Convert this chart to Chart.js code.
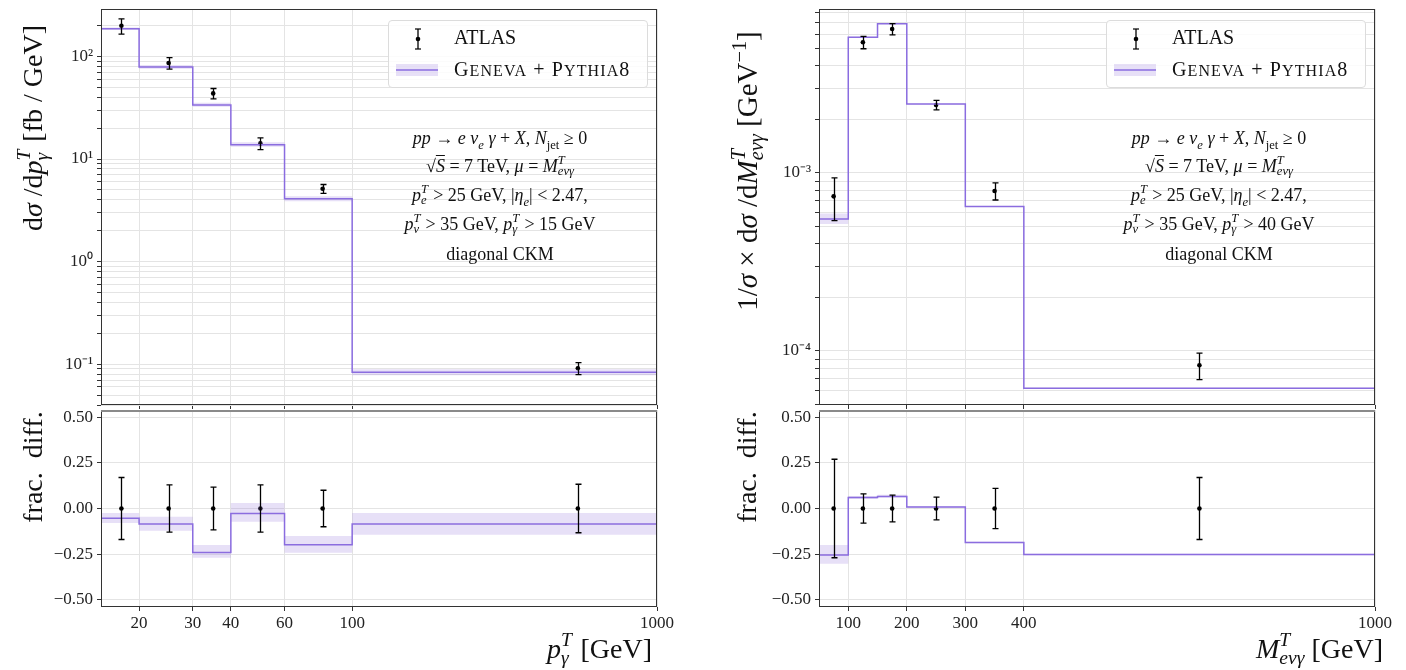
<!DOCTYPE html>
<html>
<head>
<meta charset="utf-8">
<script src="https://cdn.jsdelivr.net/npm/chart.js@4/dist/chart.umd.min.js"></script>
<style>
  html, body { margin: 0; padding: 0; background: #fff; }
  #fig { position: relative; width: 1406px; height: 670px; overflow: hidden; font-family: "Liberation Serif", serif; color: #111; }
  #fig canvas { position: absolute; }
  .txt { position: absolute; white-space: nowrap; }
  .rot { transform: translate(-50%, -50%) rotate(-90deg); font-size: 28px; }
  .xt { font-size: 28px; text-align: right; }
  .ann { font-size: 18px; width: 340px; text-align: center; line-height: 22px; }
  .ss { position: relative; display: inline-block; height: 0; }
  .ss .u, .ss .d { position: absolute; left: 0; font-size: 0.7em; line-height: 1; }
  .ss .u { bottom: 0.41em; }
  .ss .d { top: -0.52em; }
  .ov { text-decoration: overline; }
  .legend { position: absolute; border: 1px solid #dcdcdc; border-radius: 4px; background: rgba(255,255,255,0.85); font-size: 20px; }
  .legend svg, .legend span.e { position: absolute; }
  .sc { letter-spacing: 1.1px; }
  .sc small { font-size: 0.8em; }
</style>
</head>
<body>
<div id="fig">
  <canvas id="mainPt" width="680" height="410" style="left:0px;top:0px"></canvas>
  <canvas id="ratioPt" width="680" height="270" style="left:0px;top:400px"></canvas>
  <canvas id="mainMt" width="706" height="410" style="left:700px;top:0px"></canvas>
  <canvas id="ratioMt" width="706" height="270" style="left:700px;top:400px"></canvas>

  <!-- títulos de ejes -->
  <div class="txt rot" style="left:33px;top:128px">d<i>σ</i> /d<i>p</i><span class="ss" style="width:.42em"><span class="u"><i>T</i></span><span class="d"><i>γ</i></span></span> [fb / GeV]</div>
  <div class="txt rot" style="left:33px;top:467px">frac.&nbsp; diff.</div>
  <div class="txt xt" style="right:754px;top:633px"><i>p</i><span class="ss" style="width:.45em"><span class="u"><i>T</i></span><span class="d"><i>γ</i></span></span> [GeV]</div>

  <div class="txt rot" style="left:746px;top:171px;font-size:29px">1/<i>σ</i> × d<i>σ</i> /d<i>M</i><span class="ss" style="width:.9em"><span class="u"><i>T</i></span><span class="d"><i>eνγ</i></span></span> [GeV<sup style="font-size:.7em">−1</sup>]</div>
  <div class="txt rot" style="left:747px;top:467px">frac.&nbsp; diff.</div>
  <div class="txt xt" style="right:23px;top:633px"><i>M</i><span class="ss" style="width:.9em"><span class="u"><i>T</i></span><span class="d"><i>eνγ</i></span></span> [GeV]</div>

  <!-- leyendas -->
  <div class="legend" style="left:388px;top:20px;width:258px;height:66px">
    <svg width="12" height="22" style="left:23px;top:7px"><line x1="6" y1="1" x2="6" y2="21" stroke="#000" stroke-width="1.3"/><line x1="3" y1="1" x2="9" y2="1" stroke="#000" stroke-width="1.2"/><line x1="3" y1="21" x2="9" y2="21" stroke="#000" stroke-width="1.2"/><circle cx="6" cy="11" r="2.3" fill="#000"/></svg>
    <span class="e" style="left:65px;top:5px">ATLAS</span>
    <svg width="42" height="12" style="left:7px;top:43px"><rect x="0" y="0" width="42" height="12" fill="rgba(147,112,219,0.22)"/><line x1="0" y1="6" x2="42" y2="6" stroke="#8a6ce0" stroke-width="1.5"/></svg>
    <span class="e sc" style="left:65px;top:37px">G<small>ENEVA</small> + P<small>YTHIA</small>8</span>
  </div>
  <div class="legend" style="left:1106px;top:20px;width:258px;height:66px">
    <svg width="12" height="22" style="left:23px;top:7px"><line x1="6" y1="1" x2="6" y2="21" stroke="#000" stroke-width="1.3"/><line x1="3" y1="1" x2="9" y2="1" stroke="#000" stroke-width="1.2"/><line x1="3" y1="21" x2="9" y2="21" stroke="#000" stroke-width="1.2"/><circle cx="6" cy="11" r="2.3" fill="#000"/></svg>
    <span class="e" style="left:65px;top:5px">ATLAS</span>
    <svg width="42" height="12" style="left:7px;top:43px"><rect x="0" y="0" width="42" height="12" fill="rgba(147,112,219,0.22)"/><line x1="0" y1="6" x2="42" y2="6" stroke="#8a6ce0" stroke-width="1.5"/></svg>
    <span class="e sc" style="left:65px;top:37px">G<small>ENEVA</small> + P<small>YTHIA</small>8</span>
  </div>

  <!-- texto de cortes -->
  <div class="txt ann" style="left:330px;top:127px"><i>pp</i> → <i>e</i> <i>ν</i><sub style="font-size:.7em"><i>e</i></sub> <i>γ</i> + <i>X</i>, <i>N</i><sub style="font-size:.7em">jet</sub> ≥ 0</div>
  <div class="txt ann" style="left:330px;top:155px">√<span class="ov"><i>S</i></span> = 7 TeV, <i>μ</i> = <i>M</i><span class="ss" style="width:.9em"><span class="u"><i>T</i></span><span class="d"><i>eνγ</i></span></span></div>
  <div class="txt ann" style="left:330px;top:184px"><i>p</i><span class="ss" style="width:.42em"><span class="u"><i>T</i></span><span class="d"><i>e</i></span></span> &gt; 25 GeV, |<i>η</i><sub style="font-size:.7em"><i>e</i></sub>| &lt; 2.47,</div>
  <div class="txt ann" style="left:330px;top:213px"><i>p</i><span class="ss" style="width:.42em"><span class="u"><i>T</i></span><span class="d"><i>ν</i></span></span> &gt; 35 GeV, <i>p</i><span class="ss" style="width:.42em"><span class="u"><i>T</i></span><span class="d"><i>γ</i></span></span> &gt; 15 GeV</div>
  <div class="txt ann" style="left:330px;top:243px">diagonal CKM</div>

  <div class="txt ann" style="left:1049px;top:127px"><i>pp</i> → <i>e</i> <i>ν</i><sub style="font-size:.7em"><i>e</i></sub> <i>γ</i> + <i>X</i>, <i>N</i><sub style="font-size:.7em">jet</sub> ≥ 0</div>
  <div class="txt ann" style="left:1049px;top:155px">√<span class="ov"><i>S</i></span> = 7 TeV, <i>μ</i> = <i>M</i><span class="ss" style="width:.9em"><span class="u"><i>T</i></span><span class="d"><i>eνγ</i></span></span></div>
  <div class="txt ann" style="left:1049px;top:184px"><i>p</i><span class="ss" style="width:.42em"><span class="u"><i>T</i></span><span class="d"><i>e</i></span></span> &gt; 25 GeV, |<i>η</i><sub style="font-size:.7em"><i>e</i></sub>| &lt; 2.47,</div>
  <div class="txt ann" style="left:1049px;top:213px"><i>p</i><span class="ss" style="width:.42em"><span class="u"><i>T</i></span><span class="d"><i>ν</i></span></span> &gt; 35 GeV, <i>p</i><span class="ss" style="width:.42em"><span class="u"><i>T</i></span><span class="d"><i>γ</i></span></span> &gt; 40 GeV</div>
  <div class="txt ann" style="left:1049px;top:243px">diagonal CKM</div>
</div>

<script>
// panel izquierdo: pT del fotón (bins en GeV)
const ptEdges = [15, 20, 30, 40, 60, 100, 1000];
const ptCenters = [17.5, 25, 35, 50, 80, 550];
const ptGeneva = [186, 78.9, 33.6, 13.8, 4.1, 0.0836];
const ptAtlas = [199, 86.3, 43.6, 14.2, 5.13, 0.0914];
const ptAtlasErr = [0.17, 0.13, 0.117, 0.13, 0.10, 0.133]; // relativo
const ptRatio = [-0.053, -0.085, -0.241, -0.027, -0.199, -0.085];
const ptBandLo = [-0.08, -0.122, -0.27, -0.073, -0.243, -0.144];
const ptBandHi = [-0.025, -0.045, -0.20, 0.03, -0.151, -0.025];
const ptTicks = [20, 30, 40, 60, 100, 1000];

// panel derecho: masa transversa e nu gamma
const mtEdges = [50, 100, 150, 200, 300, 400, 1000];
const mtCenters = [75, 125, 175, 250, 350, 700];
const mtGeneva = [5.52e-4, 5.78e-3, 6.90e-3, 2.44e-3, 6.47e-4, 6.18e-5];
const mtAtlas = [7.39e-4, 5.42e-3, 6.44e-3, 2.41e-3, 7.92e-4, 8.31e-5];
const mtAtlasErr = [0.27, 0.08, 0.073, 0.062, 0.11, 0.17];
const mtRatio = [-0.255, 0.06, 0.066, 0.008, -0.186, -0.252];
const mtBandLo = [-0.303, 0.052, 0.06, 0.004, -0.19, -0.256];
const mtBandHi = [-0.20, 0.068, 0.075, 0.012, -0.182, -0.248];
const mtTicks = [100, 200, 300, 400, 1000];

const ratioTicks = [-0.5, -0.25, 0, 0.25, 0.5];

const PURPLE = '#8a6ce0';
const BAND = 'rgba(147,112,219,0.22)';
const GRID = '#e4e4e4';
const FONT = { family: 'Liberation Serif', size: 17 };

function sup(s) {
    const m = { '0': '⁰', '1': '¹', '2': '²', '3': '³', '4': '⁴', '-': '⁻' };
    return s.split('').map(c => m[c]).join('');
}

// marcas log: décadas + subdivisiones 2..9
function logTicks(min, max) {
    const t = [];
    for (let e = Math.floor(Math.log10(min)); e <= Math.ceil(Math.log10(max)); e++) {
        for (let k = 1; k < 10; k++) {
            const v = k * Math.pow(10, e);
            if (v >= min && v <= max) t.push({ value: v });
        }
    }
    return t;
}

function stepPts(edges, vals) {
    const pts = vals.map((v, i) => ({ x: edges[i], y: v }));
    pts.push({ x: edges[edges.length - 1], y: vals[vals.length - 1] });
    return pts;
}

// sin relleno extra alrededor de los ejes: el área del gráfico queda fija
function noPad(s) {
    s.paddingTop = 0; s.paddingBottom = 0; s.paddingLeft = 0; s.paddingRight = 0;
}

const errorBars = {
    id: 'errorBars',
    afterDatasetsDraw(chart) {
        const ctx = chart.ctx;
        const xs = chart.scales.x, ys = chart.scales.y;
        chart.data.datasets.forEach(ds => {
            if (!ds.errLo) return;
            ctx.save();
            ctx.strokeStyle = '#000';
            ctx.lineWidth = 1.3;
            ds.data.forEach((p, j) => {
                const x = Math.round(xs.getPixelForValue(p.x)) + 0.5;
                const y1 = ys.getPixelForValue(ds.errLo[j]);
                const y2 = ys.getPixelForValue(ds.errHi[j]);
                ctx.beginPath();
                ctx.moveTo(x, y1); ctx.lineTo(x, y2);
                ctx.moveTo(x - 3, y1); ctx.lineTo(x + 3, y1);
                ctx.moveTo(x - 3, y2); ctx.lineTo(x + 3, y2);
                ctx.stroke();
            });
            ctx.restore();
        });
    }
};

const frame = {
    id: 'frame',
    afterDraw(chart, args, opts) {
        const a = chart.chartArea, ctx = chart.ctx;
        ctx.save();
        ctx.strokeStyle = '#333';
        ctx.lineWidth = 1;
        ctx.strokeRect(a.left + 0.5, a.top + 0.5, a.right - a.left - 1, a.bottom - a.top - 1);
        if (opts.grayTop) {
            ctx.strokeStyle = '#8a8a8a';
            ctx.lineWidth = 2;
            ctx.beginPath();
            ctx.moveTo(a.left, a.top + 1);
            ctx.lineTo(a.right, a.top + 1);
            ctx.stroke();
        }
        ctx.restore();
    }
};

function xScale(p, showLabels, h) {
    return {
        type: p.xType, min: p.xMin, max: p.xMax,
        afterBuildTicks: s => { s.ticks = p.xTicks.map(v => ({ value: v })); },
        afterFit: s => { s.height = h; noPad(s); },
        ticks: { display: showLabels, font: FONT, color: '#222', maxRotation: 0, autoSkip: false, padding: 2,
                 callback: v => String(v) },
        grid: { color: GRID, tickColor: '#333', tickLength: 4 },
        border: { display: false }
    };
}

function bandSets(edges, lo, hi) {
    return [
        { data: stepPts(edges, lo), borderWidth: 0, pointRadius: 0, stepped: true, fill: false },
        { data: stepPts(edges, hi), borderWidth: 0, pointRadius: 0, stepped: true, fill: '-1', backgroundColor: BAND }
    ];
}

function mainChart(id, p) {
    // banda de incertidumbre de Geneva llevada al panel principal
    const lo = p.geneva.map((g, i) => g * (1 + p.bandLo[i]) / (1 + p.ratio[i]));
    const hi = p.geneva.map((g, i) => g * (1 + p.bandHi[i]) / (1 + p.ratio[i]));
    new Chart(document.getElementById(id), {
        type: 'line',
        data: {
            datasets: [
                ...bandSets(p.edges, lo, hi),
                { data: stepPts(p.edges, p.geneva), borderColor: PURPLE, borderWidth: 1.5, pointRadius: 0, stepped: true, fill: false },
                { type: 'scatter', data: p.centers.map((x, i) => ({ x: x, y: p.atlas[i] })),
                  pointRadius: 2.3, backgroundColor: '#000', borderWidth: 0,
                  errLo: p.atlas.map((a, i) => a * (1 - p.err[i])),
                  errHi: p.atlas.map((a, i) => a * (1 + p.err[i])) }
            ]
        },
        options: {
            responsive: false, animation: false,
            layout: { padding: { top: 9, right: p.padRight, left: 0, bottom: 0 } },
            plugins: { legend: { display: false }, tooltip: { enabled: false }, frame: {} },
            scales: {
                x: xScale(p, false, 5),
                y: {
                    type: 'logarithmic', min: p.yMin, max: p.yMax,
                    afterBuildTicks: s => { s.ticks = logTicks(p.yMin, p.yMax); },
                    afterFit: s => { s.width = p.axisW; noPad(s); },
                    ticks: { font: FONT, color: '#222', autoSkip: false, padding: 4,
                             callback: v => {
                                 const e = Math.log10(v);
                                 return Math.abs(e - Math.round(e)) < 1e-9 ? '10' + sup(String(Math.round(e))) : '';
                             } },
                    grid: { color: GRID, tickColor: '#333', tickLength: 4 },
                    border: { display: false }
                }
            }
        },
        plugins: [errorBars, frame]
    });
}

function ratioChart(id, p) {
    new Chart(document.getElementById(id), {
        type: 'line',
        data: {
            datasets: [
                ...bandSets(p.edges, p.bandLo, p.bandHi),
                { data: stepPts(p.edges, p.ratio), borderColor: PURPLE, borderWidth: 1.5, pointRadius: 0, stepped: true, fill: false },
                { type: 'scatter', data: p.centers.map(x => ({ x: x, y: 0 })),
                  pointRadius: 2.3, backgroundColor: '#000', borderWidth: 0,
                  errLo: p.err.map(e => -e), errHi: p.err.slice() }
            ]
        },
        options: {
            responsive: false, animation: false,
            layout: { padding: { top: 10, right: p.padRight, left: 0, bottom: 0 } },
            plugins: { legend: { display: false }, tooltip: { enabled: false }, frame: { grayTop: true } },
            scales: {
                x: xScale(p, true, 63),
                y: {
                    type: 'linear', min: -0.54, max: 0.54,
                    afterBuildTicks: s => { s.ticks = ratioTicks.map(v => ({ value: v })); },
                    afterFit: s => { s.width = p.axisW; noPad(s); },
                    ticks: { font: FONT, color: '#222', autoSkip: false, padding: 4,
                             callback: v => (v < 0 ? '−' : '') + Math.abs(v).toFixed(2) },
                    grid: { color: GRID, tickColor: '#333', tickLength: 4 },
                    border: { display: false }
                }
            }
        },
        plugins: [errorBars, frame]
    });
}

const ptPanel = {
    edges: ptEdges, centers: ptCenters, geneva: ptGeneva, atlas: ptAtlas, err: ptAtlasErr,
    ratio: ptRatio, bandLo: ptBandLo, bandHi: ptBandHi,
    xType: 'logarithmic', xMin: 15, xMax: 1000, xTicks: ptTicks,
    yMin: 0.04, yMax: 290, axisW: 101, padRight: 23
};
const mtPanel = {
    edges: mtEdges, centers: mtCenters, geneva: mtGeneva, atlas: mtAtlas, err: mtAtlasErr,
    ratio: mtRatio, bandLo: mtBandLo, bandHi: mtBandHi,
    xType: 'linear', xMin: 50, xMax: 1000, xTicks: mtTicks,
    yMin: 4.97e-5, yMax: 8.34e-3, axisW: 119, padRight: 31
};

mainChart('mainPt', ptPanel);
ratioChart('ratioPt', ptPanel);
mainChart('mainMt', mtPanel);
ratioChart('ratioMt', mtPanel);
</script>
</body>
</html>
